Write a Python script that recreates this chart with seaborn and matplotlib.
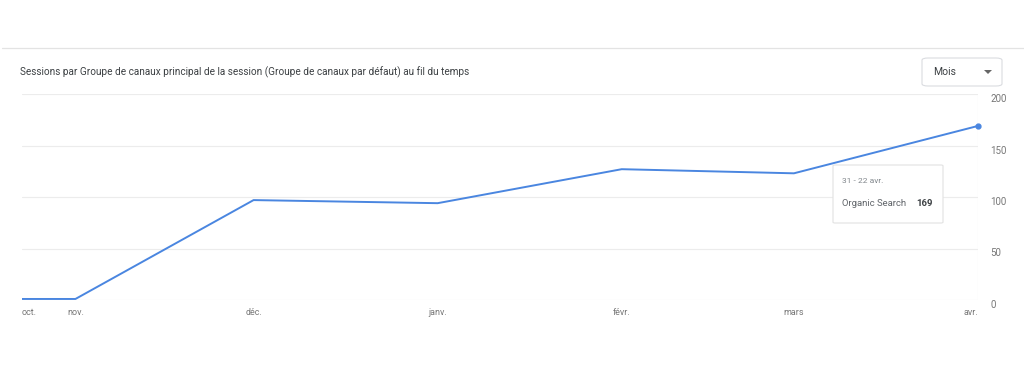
import pandas as pd
import numpy as np
import seaborn as sns
import matplotlib.pyplot as plt
import matplotlib.dates as mdates
from matplotlib.patches import FancyBboxPatch, Polygon

sns.set_style("white")
plt.rcParams['font.family'] = ['Roboto', 'DejaVu Sans']

# données
dates = ['2023-10-23', '2023-11-01', '2023-12-01', '2024-01-01',
         '2024-02-01', '2024-03-01', '2024-04-01']
month_labels = ['oct.', 'nov.', 'déc.', 'janv.', 'févr.', 'mars', 'avr.']
sessions = [1, 1, 97, 94, 127, 123, 169]
y_ticks = [0, 50, 100, 150, 200]

df = pd.DataFrame({'date': pd.to_datetime(dates), 'sessions': sessions})

W, H = 1024, 373
fig = plt.figure(figsize=(W / 100, H / 100), dpi=100)
ax = fig.add_axes([22 / W, (H - 300) / H, (978 - 22) / W, (300 - 94) / H])

blue = '#4a86e0'
sns.lineplot(data=df, x='date', y='sessions', color=blue, linewidth=1.4, ax=ax)
ax.plot(df['date'].iloc[-1], sessions[-1], 'o', color=blue, markersize=3.5,
        zorder=5, clip_on=False)

ax.set_xlim(df['date'].iloc[0], df['date'].iloc[-1])
ax.set_ylim(0, 200)
ax.set_xlabel('')
ax.set_ylabel('')

# grille horizontale
for v in y_ticks:
    ax.axhline(v, color='#ececec', linewidth=0.8, zorder=0)
ax.axvline(df['date'].iloc[-1], color='#ececec', linewidth=0.8, zorder=0)
for s in ax.spines.values():
    s.set_visible(False)

# axe y à droite
ax.yaxis.tick_right()
ax.set_yticks(y_ticks)
ax.set_yticklabels([str(v) for v in y_ticks])
ax.tick_params(axis='y', length=0, pad=9, labelsize=7, labelcolor='#777777')
for lbl in ax.get_yticklabels():
    lbl.set_va('top')

# axe x
ax.set_xticks(df['date'])
ax.set_xticklabels(month_labels)
ax.tick_params(axis='x', length=3, width=0.6, color='#e6e6e6', pad=3,
               labelsize=6.5, labelcolor='#777777')
xl = ax.get_xticklabels()
xl[0].set_ha('left')
xl[-1].set_ha('right')

# ligne supérieure de la carte
fig.add_artist(plt.Line2D([2 / W, 1], [(H - 48) / H] * 2, color='#e3e3e3',
                          linewidth=0.9, transform=fig.transFigure))

# titre
fig.text(20 / W, (H - 72) / H,
         'Sessions par Groupe de canaux principal de la session (Groupe de canaux par défaut) au fil du temps',
         fontsize=7.2, color='#3c4043', va='center', ha='left')

# sélecteur "Mois"
fig.add_artist(FancyBboxPatch((922 / W, (H - 86) / H), 80 / W, 28 / H,
                              boxstyle='round,pad=0,rounding_size=0.006',
                              transform=fig.transFigure, facecolor='white',
                              edgecolor='#dadce0', linewidth=0.8))
fig.text(933 / W, (H - 72) / H, 'Mois', fontsize=7.5, color='#3c4043', va='center')
tx, ty = 988 / W, (H - 72) / H
fig.add_artist(Polygon([[tx - 4 / W, ty + 2 / H], [tx + 4 / W, ty + 2 / H], [tx, ty - 2 / H]],
                       closed=True, transform=fig.transFigure, facecolor='#666666',
                       edgecolor='none'))

# infobulle
fig.add_artist(FancyBboxPatch((833 / W, (H - 223) / H), 110 / W, 58 / H,
                              boxstyle='round,pad=0,rounding_size=0.002',
                              transform=fig.transFigure, facecolor='white',
                              edgecolor='#e2e2e2', linewidth=0.8, zorder=10))
fig.text(842 / W, (H - 181) / H, '31 - 22 avr.', fontsize=6, color='#80868b',
         va='center', zorder=11)
fig.text(842 / W, (H - 204) / H, 'Organic Search', fontsize=6.8, color='#5f6368',
         va='center', zorder=11)
fig.text(933 / W, (H - 204) / H, str(sessions[-1]), fontsize=6.8, color='#3c4043',
         va='center', ha='right', fontweight='bold', zorder=11)

fig.savefig('out.png', dpi=100, facecolor='white')
